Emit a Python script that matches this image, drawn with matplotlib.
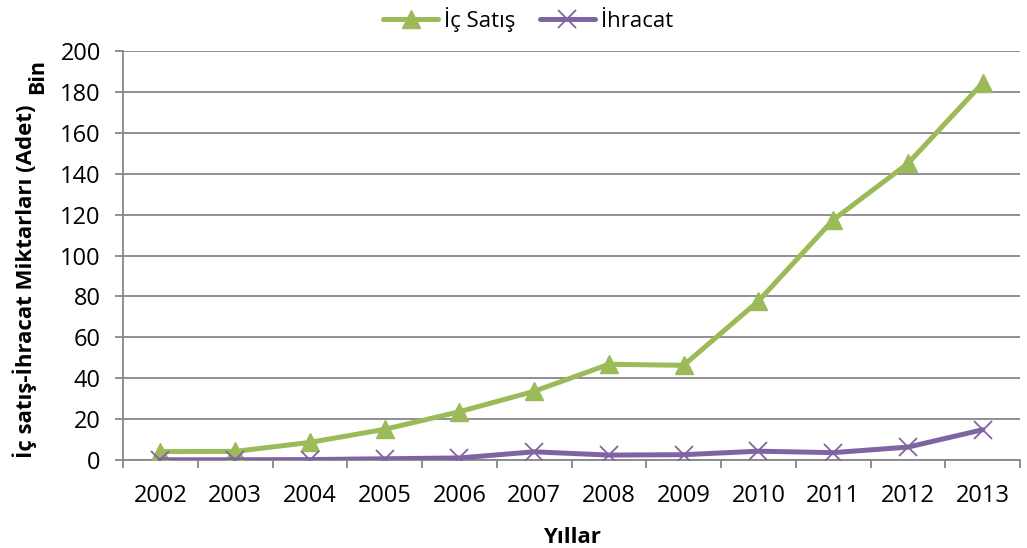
import numpy as np
import matplotlib.pyplot as plt

# yıllık iç satış ve ihracat miktarları (bin adet)
yillar = ['2002', '2003', '2004', '2005', '2006', '2007',
          '2008', '2009', '2010', '2011', '2012', '2013']
ic_satis = [4.1, 4.2, 8.6, 15.0, 23.6, 33.6, 46.8, 46.3, 77.7, 117.4, 145.0, 184.3]
ihracat = [0.1, 0.1, 0.2, 0.6, 1.0, 4.0, 2.4, 2.6, 4.3, 3.6, 6.3, 14.8]
y_ticks = list(range(0, 201, 20))

plt.rcParams['font.family'] = ['Open Sans', 'DejaVu Sans']

YESIL = '#9BBB59'
MOR = '#8064A2'
GRI = '#878787'

fig = plt.figure(figsize=(10.27, 5.48), dpi=100)
ax = fig.add_axes([0.1198, 0.1606, 0.8734, 0.7463])

x = np.arange(len(yillar))
ax.plot(x, ic_satis, color=YESIL, lw=3.6, marker='^', markersize=13,
        solid_capstyle='round', label='İç Satış', zorder=3)
ax.plot(x, ihracat, color=MOR, lw=3.6, marker='x', markersize=13,
        markeredgewidth=1.3, solid_capstyle='round', label='İhracat', zorder=3)

ax.set_xlim(-0.5, len(yillar) - 0.5)
ax.set_ylim(0, 200)

# kategori sınırlarında tik, ortada etiket
ax.set_xticks(np.arange(-0.5, len(yillar), 1.0))
ax.set_xticklabels([])
ax.set_xticks(x, minor=True)
ax.set_xticklabels(yillar, minor=True, fontsize=17)
ax.tick_params(axis='x', which='major', length=6, width=1.3, color=GRI, direction='out')
ax.tick_params(axis='x', which='minor', length=0, pad=17)

ax.set_yticks(y_ticks)
ax.set_yticklabels([str(v) for v in y_ticks], fontsize=17)
ax.tick_params(axis='y', length=6, width=1.3, color=GRI, pad=10)
ax.yaxis.grid(True, color=GRI, lw=1.3)
ax.set_axisbelow(True)

for side in ['top', 'right']:
    ax.spines[side].set_visible(False)
for side in ['left', 'bottom']:
    ax.spines[side].set_color(GRI)
    ax.spines[side].set_linewidth(1.3)

ax.set_xlabel('Yıllar', fontsize=16, fontweight='bold', labelpad=14)
fig.text(0.024, 0.487, 'İç satış-İhracat Miktarları (Adet)', rotation=90,
         fontsize=16, fontweight='bold', ha='center', va='center')
fig.text(0.037, 0.861, 'Bin', rotation=90, fontsize=15.5, fontweight='bold',
         ha='center', va='center')

ax.legend(loc='center', bbox_to_anchor=(0.514, 0.964),
          bbox_transform=fig.transFigure, ncol=2, frameon=False,
          fontsize=16, handlelength=2.5, columnspacing=1.1, handletextpad=0.25,
          borderaxespad=0)

fig.savefig('out.png', dpi=100)
